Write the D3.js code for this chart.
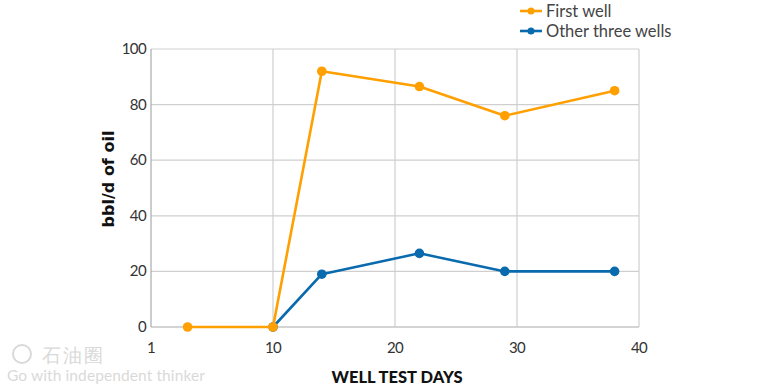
<!DOCTYPE html>
<html><head><meta charset="utf-8">
<script src="https://cdn.jsdelivr.net/npm/d3@7"></script>
<style>body{margin:0;background:#fff}svg{display:block}text{font-family:Lato,"DejaVu Sans",sans-serif}</style>
</head><body>
<svg id="c" width="775" height="388"></svg>
<script>
const xTicks = [0, 10, 20, 30, 40];
const xTickLabels = ["1", "10", "20", "30", "40"];
const yTicks = [0, 20, 40, 60, 80, 100];
const firstWellDays = [3, 10, 14, 22, 29, 38];
const firstWellOil = [0, 0, 92, 86.5, 76, 85];
const otherWellsDays = [10, 14, 22, 29, 38];
const otherWellsOil = [0, 19, 26.5, 20, 20];
const seriesNames = ["First well", "Other three wells"];
const colors = ["#FF9F00", "#0A6AAE"];

const svg = d3.select("#c");
const x = d3.scaleLinear().domain([0, 40]).range([151, 639]);
const y = d3.scaleLinear().domain([0, 100]).range([327, 49]);

// grid
const g = svg.append("g");
g.selectAll(".hg").data(yTicks).enter().append("line")
  .attr("x1", x(0)).attr("x2", x(40)).attr("y1", d => y(d)).attr("y2", d => y(d))
  .attr("stroke", d => d === 0 ? "#aaa" : "#cfcfcf").attr("stroke-width", 1.2);
g.selectAll(".vg").data(xTicks).enter().append("line")
  .attr("y1", y(0)).attr("y2", y(100)).attr("x1", d => x(d)).attr("x2", d => x(d))
  .attr("stroke", d => d === 0 ? "#aaa" : "#cfcfcf").attr("stroke-width", 1.2);

// y axis labels
svg.append("g").selectAll("text").data(yTicks).enter().append("text")
  .attr("x", 146).attr("y", d => y(d) + 5).attr("text-anchor", "end")
  .attr("font-size", 15).attr("fill", "#333").attr("letter-spacing", -0.6).text(d => d);
// x axis labels
svg.append("g").selectAll("text").data(xTicks).enter().append("text")
  .attr("x", (d, i) => x(d)).attr("y", 353).attr("text-anchor", "middle")
  .attr("font-size", 15).attr("fill", "#333").attr("letter-spacing", -0.6).text((d, i) => xTickLabels[i]);

// axis titles
svg.append("text").attr("transform", "translate(114,179) rotate(-90)").attr("text-anchor", "middle")
  .style("font-family", "'DejaVu Sans'").attr("font-size", 16).attr("font-weight", "bold").attr("fill", "#111").text("bbl/d of oil");
svg.append("text").attr("x", 397).attr("y", 383).attr("text-anchor", "middle")
  .attr("font-size", 16.5).attr("font-weight", "900").attr("fill", "#111").text("WELL TEST DAYS");

// series
const series = [
  {days: firstWellDays, oil: firstWellOil},
  {days: otherWellsDays, oil: otherWellsOil}
];
const line = d3.line().x(d => x(d[0])).y(d => y(d[1]));
[1, 0].forEach(i => {
  const pts = series[i].days.map((d, j) => [d, series[i].oil[j]]);
  svg.append("path").datum(pts).attr("d", line).attr("fill", "none")
    .attr("stroke", colors[i]).attr("stroke-width", 2.6).attr("stroke-linejoin", "round");
  svg.append("g").selectAll("circle").data(pts).enter().append("circle")
    .attr("cx", d => x(d[0])).attr("cy", d => y(d[1])).attr("r", 4.8).attr("fill", colors[i]);
});

// legend
seriesNames.forEach((n, i) => {
  const ly = 11 + i * 20;
  svg.append("line").attr("x1", 520).attr("x2", 542).attr("y1", ly).attr("y2", ly)
    .attr("stroke", colors[i]).attr("stroke-width", 2.6);
  svg.append("circle").attr("cx", 531).attr("cy", ly).attr("r", 3.5).attr("fill", colors[i]);
  svg.append("text").attr("x", 546).attr("y", ly + 5.5).attr("font-size", 16.5)
    .attr("fill", "#444").attr("letter-spacing", 0).text(n);
});

// watermark
const wm = svg.append("g").attr("opacity", 0.55);
wm.append("circle").attr("cx", 22).attr("cy", 354).attr("r", 9).attr("fill", "none").attr("stroke", "#bbb").attr("stroke-width", 2);
wm.append("text").attr("x", 42).attr("y", 362).attr("font-size", 19).attr("fill", "#bbb")
  .attr("font-family", "Noto Sans CJK SC").attr("letter-spacing", 2).text("石油圈");
wm.append("text").attr("x", 7).attr("y", 381).attr("font-size", 15.5).attr("fill", "#bbb")
  .attr("letter-spacing", 0.1).text("Go with independent thinker");
</script>
</body></html>
